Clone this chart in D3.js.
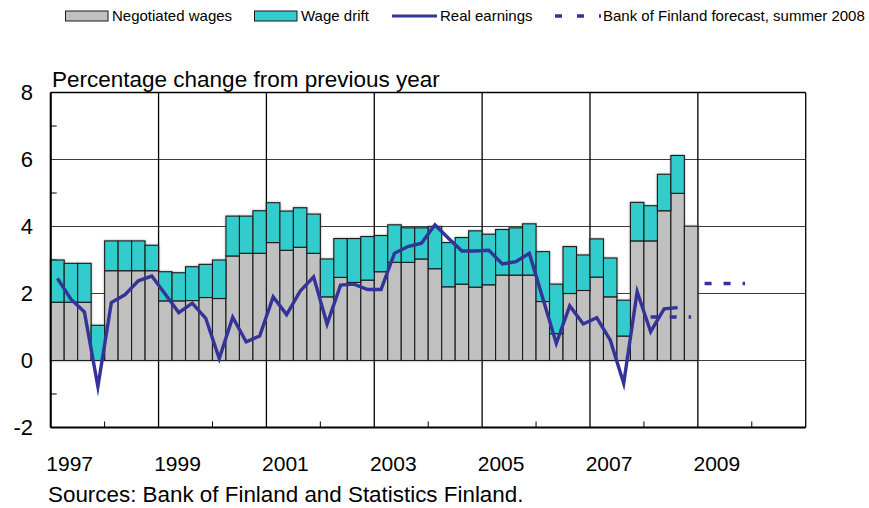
<!DOCTYPE html>
<html>
<head>
<meta charset="utf-8">
<script src="https://cdn.jsdelivr.net/npm/d3@7"></script>
<style>
  html, body { margin: 0; padding: 0; background: #fff; }
  svg { display: block; font-family: Arial, "Liberation Sans", sans-serif; }
</style>
</head>
<body>
<svg id="chart" width="869" height="508"></svg>
<script>
// Quarterly observations, 1997Q1 - 2008Q4
const quarters = [
  "1997Q1","1997Q2","1997Q3","1997Q4","1998Q1","1998Q2","1998Q3","1998Q4",
  "1999Q1","1999Q2","1999Q3","1999Q4","2000Q1","2000Q2","2000Q3","2000Q4",
  "2001Q1","2001Q2","2001Q3","2001Q4","2002Q1","2002Q2","2002Q3","2002Q4",
  "2003Q1","2003Q2","2003Q3","2003Q4","2004Q1","2004Q2","2004Q3","2004Q4",
  "2005Q1","2005Q2","2005Q3","2005Q4","2006Q1","2006Q2","2006Q3","2006Q4",
  "2007Q1","2007Q2","2007Q3","2007Q4","2008Q1","2008Q2","2008Q3","2008Q4"
];

// Negotiated wages, % change y/y
const negotiatedWages = [
  1.74, 1.74, 1.74, 0.00,  2.68, 2.68, 2.68, 2.68,
  1.78, 1.78, 1.79, 1.88,  1.85, 3.12, 3.20, 3.20,
  3.52, 3.29, 3.38, 3.20,  1.90, 2.48, 2.33, 2.40,
  2.65, 2.93, 2.93, 3.03,  2.74, 2.20, 2.28, 2.19,
  2.26, 2.55, 2.55, 2.55,  1.76, 0.80, 2.00, 2.09,
  2.49, 1.90, 0.73, 3.57,  3.57, 4.47, 4.99, 4.01
];

// Wage drift, percentage points
const wageDrift = [
  1.26, 1.16, 1.16, 1.05,  0.89, 0.89, 0.89, 0.76,
  0.87, 0.84, 1.01, 0.99,  1.15, 1.19, 1.11, 1.27,
  1.19, 1.17, 1.18, 1.17,  1.13, 1.16, 1.31, 1.30,
  1.08, 1.12, 1.03, 0.93,  1.26, 1.32, 1.39, 1.68,
  1.51, 1.36, 1.41, 1.53,  1.49, 1.48, 1.40, 1.06,
  1.14, 1.16, 1.07, 1.15,  1.05, 1.09, 1.13, 0.00
];

// Real earnings, % change y/y (through 2008Q3)
const realEarnings = [
  2.45, 1.83, 1.45, -0.78,  1.73, 1.96, 2.38, 2.52,
  1.98, 1.43, 1.71, 1.26,   0.06, 1.29, 0.56, 0.73,
  1.90, 1.37, 2.07, 2.50,   1.09, 2.25, 2.28, 2.12,
  2.12, 3.20, 3.40, 3.50,   4.05, 3.65, 3.27, 3.27,
  3.29, 2.88, 2.95, 3.20,   1.86, 0.51, 1.63, 1.09,
  1.28, 0.61, -0.68, 2.05,  0.86, 1.54, 1.58
];

// Bank of Finland forecast of real earnings, summer 2008 (annual)
const forecastYears = [2008, 2009];
const forecastValues = [1.3, 2.3];

const yTicks = [-2, 0, 2, 4, 6, 8];
const yearLabels = ["1997", "1999", "2001", "2003", "2005", "2007", "2009"];

const COL_NEG = "#c0c0c0";
const COL_DRIFT = "#33cccc";
const COL_LINE = "#333399";

const svg = d3.select("#chart");

const plotL = 50.7, plotR = 805.7, plotT = 92.5, plotB = 427.5;

// Time axis in fractional years: start of 1997 to end of 2010
const x = d3.scaleLinear().domain([1997, 2011]).range([plotL, plotR]);
const y = d3.scaleLinear().domain([-2, 8]).range([plotB, plotT]);

const qTime = q => +q.slice(0, 4) + (+q.slice(5) - 1) / 4;
const qWidth = x(1997.25) - x(1997);

// Soft shadow under the bars
const defs = svg.append("defs");
const shadow = defs.append("filter").attr("id", "shadow")
  .attr("x", "-20%").attr("y", "-5%").attr("width", "140%").attr("height", "110%");
shadow.append("feDropShadow").attr("dx", 0).attr("dy", 0)
  .attr("stdDeviation", 0.9).attr("flood-color", "#555").attr("flood-opacity", 0.55);

// Horizontal grid lines
svg.append("g")
  .selectAll("line").data(yTicks.filter(v => v > -2 && v < 8)).join("line")
  .attr("x1", plotL).attr("x2", plotR)
  .attr("y1", d => y(d)).attr("y2", d => y(d))
  .attr("stroke", "#3a3a3a").attr("stroke-width", 1.2);

// Vertical grid lines every two years
const gridYears = yearLabels.map(Number).concat([2011]);
svg.append("g")
  .selectAll("line").data(gridYears).join("line")
  .attr("x1", d => x(d)).attr("x2", d => x(d))
  .attr("y1", plotT).attr("y2", plotB)
  .attr("stroke", "#000").attr("stroke-width", 1.3);

// Minor ticks: odd values on the y axis, intermediate years on the x axis
svg.append("g")
  .selectAll("line").data(d3.range(-1, 8, 2)).join("line")
  .attr("x1", plotL).attr("x2", plotL + 6)
  .attr("y1", d => y(d)).attr("y2", d => y(d))
  .attr("stroke", "#000").attr("stroke-width", 1);
svg.append("g")
  .selectAll("line").data(d3.range(1998, 2011, 2)).join("line")
  .attr("x1", d => x(d)).attr("x2", d => x(d))
  .attr("y1", plotB).attr("y2", plotB - 6)
  .attr("stroke", "#000").attr("stroke-width", 1);

// Stacked bars
const rows = quarters.map((q, i) => ({ t: qTime(q), neg: negotiatedWages[i], drift: wageDrift[i] }));
const bars = svg.append("g").attr("filter", "url(#shadow)");
bars.selectAll("rect.neg").data(rows.filter(d => d.neg > 0)).join("rect")
  .attr("class", "neg")
  .attr("x", d => x(d.t)).attr("width", qWidth)
  .attr("y", d => y(d.neg)).attr("height", d => y(0) - y(d.neg))
  .attr("fill", COL_NEG).attr("stroke", "#1a1a1a").attr("stroke-width", 1.1);
bars.selectAll("rect.drift").data(rows.filter(d => d.drift > 0)).join("rect")
  .attr("class", "drift")
  .attr("x", d => x(d.t)).attr("width", qWidth)
  .attr("y", d => y(d.neg + d.drift)).attr("height", d => y(d.neg) - y(d.neg + d.drift))
  .attr("fill", COL_DRIFT).attr("stroke", "#1a1a1a").attr("stroke-width", 1.1);

// Plot frame
svg.append("line").attr("x1", plotL).attr("x2", plotR).attr("y1", plotT).attr("y2", plotT)
  .attr("stroke", "#000").attr("stroke-width", 1.6);
svg.append("line").attr("x1", plotL).attr("x2", plotL).attr("y1", plotT).attr("y2", plotB)
  .attr("stroke", "#000").attr("stroke-width", 2);
svg.append("line").attr("x1", plotL).attr("x2", plotR).attr("y1", plotB).attr("y2", plotB)
  .attr("stroke", "#000").attr("stroke-width", 2);

// Real earnings line
const line = d3.line().x(d => x(d.t + 0.125)).y(d => y(d.v));
svg.append("path")
  .datum(realEarnings.map((v, i) => ({ t: qTime(quarters[i]), v })))
  .attr("d", line)
  .attr("fill", "none").attr("stroke", COL_LINE).attr("stroke-width", 3.4)
  .attr("stroke-linejoin", "miter").attr("stroke-miterlimit", 6);

// Forecast segments, one per year, spanning Q1..Q4 midpoints
svg.append("g")
  .selectAll("line").data(forecastYears.map((yr, i) => ({ yr, v: forecastValues[i] }))).join("line")
  .attr("x1", d => x(d.yr + 0.125)).attr("x2", d => x(d.yr + 0.875))
  .attr("y1", d => y(d.v)).attr("y2", d => y(d.v))
  .attr("stroke", COL_LINE).attr("stroke-width", 3.4)
  .attr("stroke-dasharray", "7,12");

// Y axis labels
svg.append("g")
  .selectAll("text").data(yTicks).join("text")
  .attr("x", 33).attr("y", d => y(d)).attr("dy", "0.36em")
  .attr("text-anchor", "end").attr("font-size", 22).attr("fill", "#000")
  .text(d => d);

// X axis labels
svg.append("g")
  .selectAll("text").data(yearLabels).join("text")
  .attr("x", d => x(+d) + 19).attr("y", 471)
  .attr("text-anchor", "middle").attr("font-size", 21).attr("fill", "#000")
  .text(d => d);

// Titles
svg.append("text").attr("x", 52).attr("y", 86.5).attr("font-size", 22.5)
  .text("Percentage change from previous year");
svg.append("text").attr("x", 48).attr("y", 502).attr("font-size", 22.4)
  .text("Sources: Bank of Finland and Statistics Finland.");

// Legend
const lg = svg.append("g").attr("font-size", 15);
const ly = 16;
lg.append("rect").attr("x", 65.5).attr("y", ly - 5).attr("width", 42.5).attr("height", 10)
  .attr("fill", COL_NEG).attr("stroke", "#1a1a1a").attr("stroke-width", 1);
lg.append("text").attr("x", 112).attr("y", ly + 5.3).text("Negotiated wages");
lg.append("rect").attr("x", 254.5).attr("y", ly - 5).attr("width", 42.5).attr("height", 10)
  .attr("fill", COL_DRIFT).attr("stroke", "#1a1a1a").attr("stroke-width", 1);
lg.append("text").attr("x", 301).attr("y", ly + 5.3).text("Wage drift");
lg.append("line").attr("x1", 392).attr("x2", 437).attr("y1", ly).attr("y2", ly)
  .attr("stroke", COL_LINE).attr("stroke-width", 3);
lg.append("text").attr("x", 440).attr("y", ly + 5.3).text("Real earnings");
lg.append("line").attr("x1", 555).attr("x2", 601).attr("y1", ly).attr("y2", ly)
  .attr("stroke", COL_LINE).attr("stroke-width", 3.4).attr("stroke-dasharray", "7,15");
lg.append("text").attr("x", 603).attr("y", ly + 5.3).text("Bank of Finland forecast, summer 2008");
</script>
</body>
</html>
